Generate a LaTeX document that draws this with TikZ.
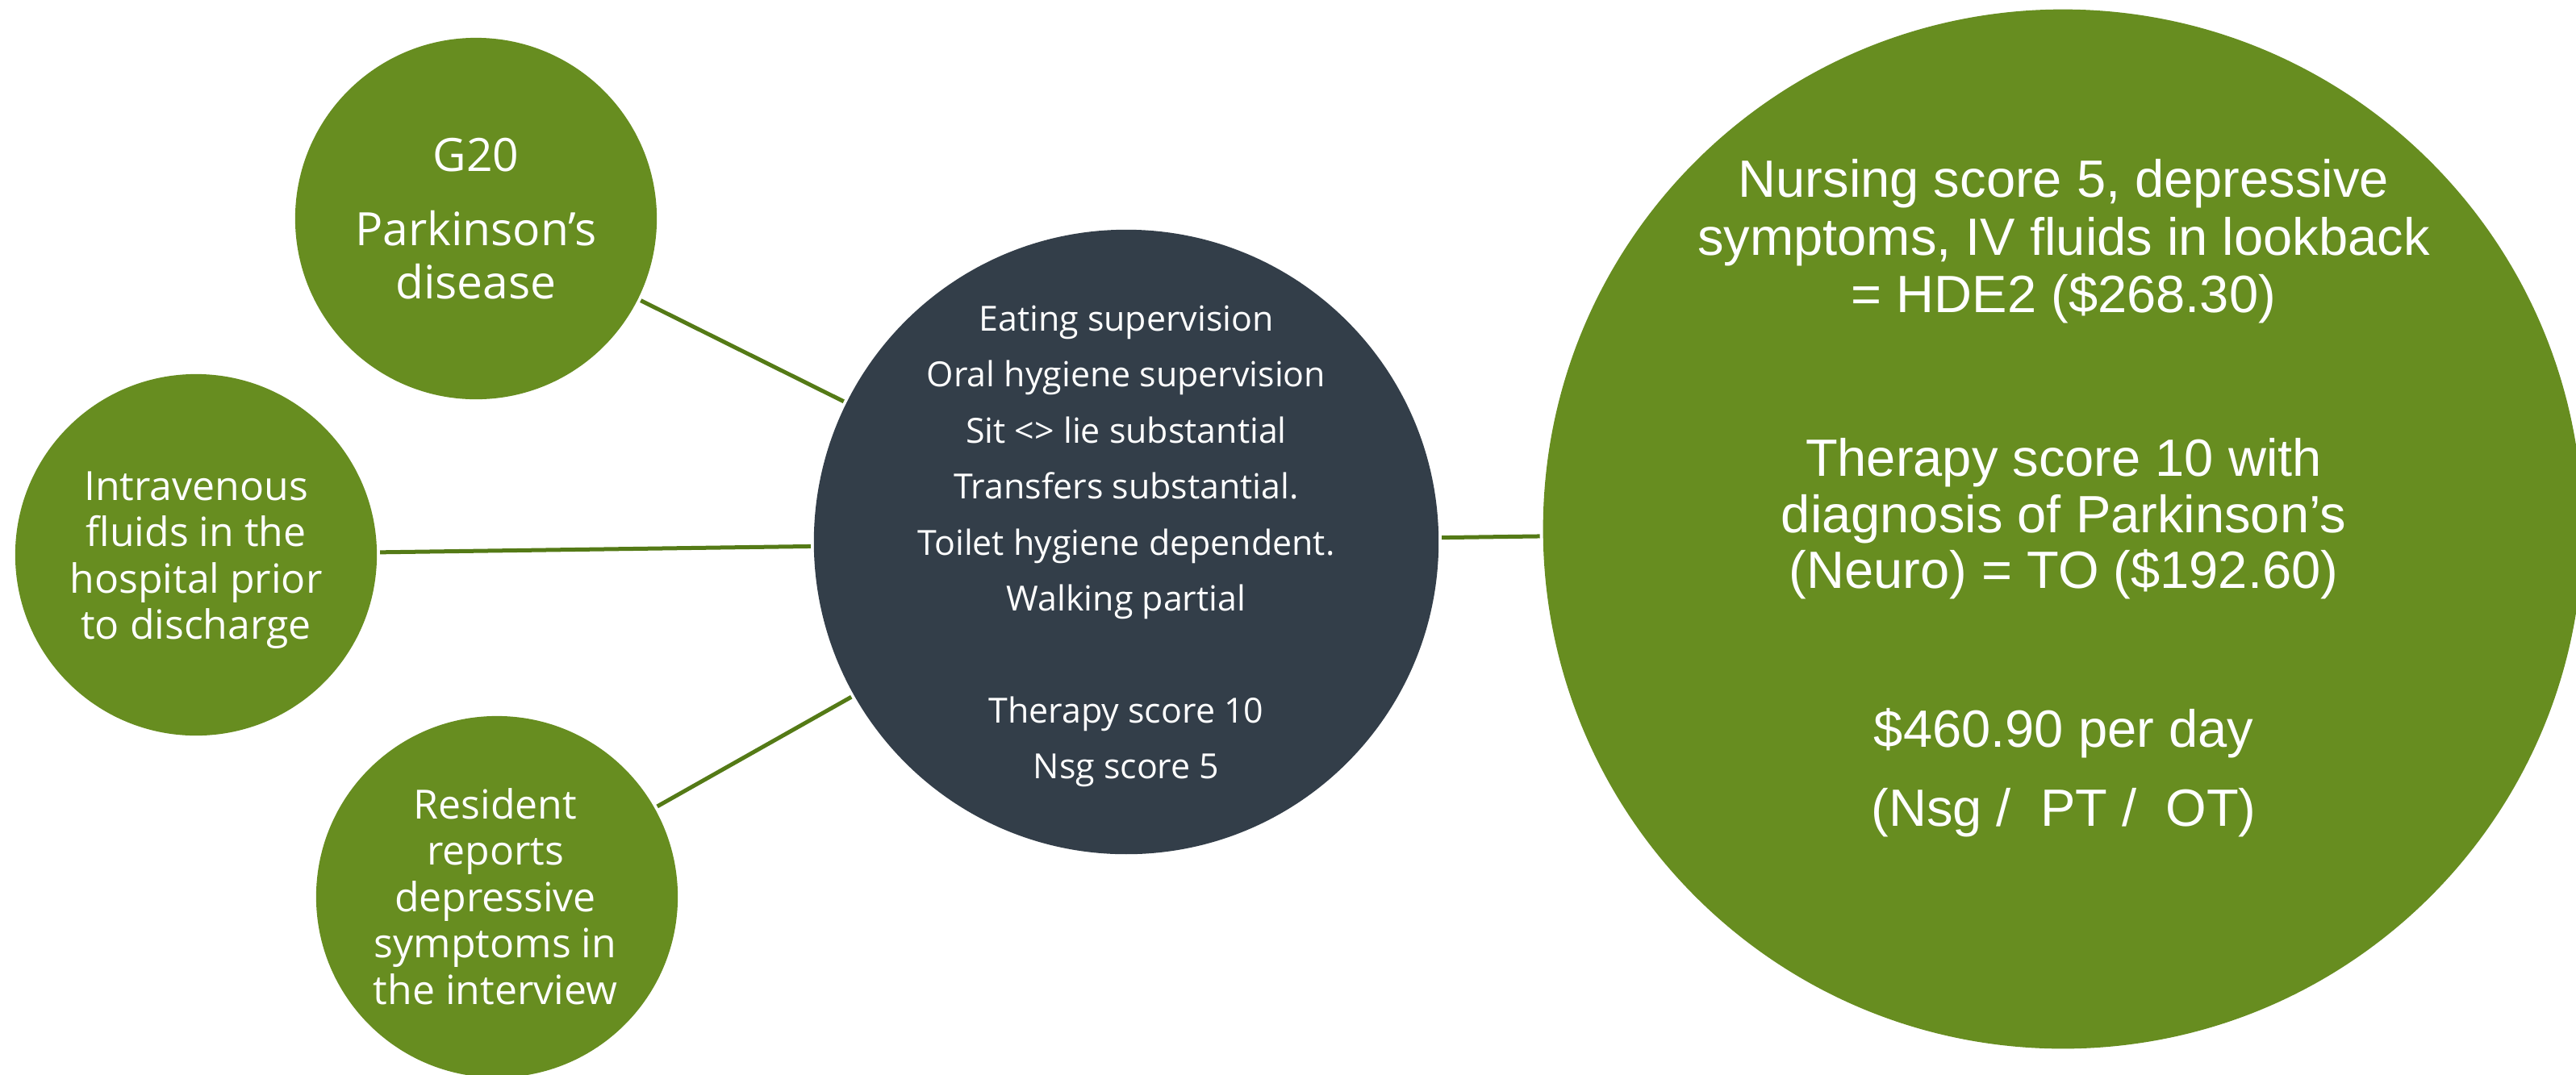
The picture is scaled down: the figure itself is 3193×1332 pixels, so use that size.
\documentclass[tikz,border=0pt]{standalone}
\usepackage{fontspec}
\setmainfont{Open Sans}
\newfontfamily\headfont{Liberation Sans}
\definecolor{leaf}{RGB}{103,141,32}
\definecolor{slate}{RGB}{51,62,73}
\definecolor{stem}{RGB}{84,122,22}
\newcommand\fsTitle{\fontsize{16.2pt}{18.8pt}\selectfont}
\newcommand\fsSide{\fontsize{14.2pt}{16.4pt}\selectfont}
\newcommand\fsCore{\fontsize{12.2pt}{19.6pt}\selectfont}
\newcommand\fsBig{\headfont\fontsize{18.5pt}{20.2pt}\selectfont}
\begin{document}
\begin{tikzpicture}[x=0.01cm,y=-0.01cm,
  bubble/.style={circle,fill=leaf,draw=none,inner sep=0pt,outer sep=0.04cm,minimum size=#1},
  hub/.style={circle,fill=slate,draw=none,inner sep=0pt,outer sep=0.04cm,minimum size=#1},
  link/.style={draw=stem,line width=0.05cm},
  txt/.style={text=white,anchor=base,inner sep=0pt}]
\useasboundingbox (0,0) rectangle (3193,1332);
\clip (0,0) rectangle (3193,1332);

% circles
\node[bubble=4.48cm] (g20) at (590,271) {};
\node[bubble=4.48cm] (iv) at (243,688) {};
\node[bubble=4.48cm] (dep) at (616,1112) {};
\node[hub=7.74cm] (core) at (1396,672) {};
\node[bubble=12.88cm] (pay) at (2557,656) {};

% connectors
\draw[link] (g20) -- (core);
\draw[link] (iv) -- (core);
\draw[link] (dep) -- (core);
\draw[link] (core) -- (pay);

% diagnosis
\node[txt,font=\fsTitle] (g20a) at (590,212) {G20};
\node[txt,font=\fsTitle] (g20b) at (590,304) {Parkinson’s};
\node[txt,font=\fsTitle] (g20c) at (590,370) {disease};

% IV fluids
\node[txt,font=\fsSide] (iva) at (243,620) {Intravenous};
\node[txt,font=\fsSide] (ivb) at (243,677) {fluids in the};
\node[txt,font=\fsSide] (ivc) at (243,735) {hospital prior};
\node[txt,font=\fsSide] (ivd) at (243,792) {to discharge};

% depressive symptoms
\node[txt,font=\fsSide] (depa) at (614,1015) {Resident};
\node[txt,font=\fsSide] (depb) at (614,1072) {reports};
\node[txt,font=\fsSide] (depc) at (614,1130) {depressive};
\node[txt,font=\fsSide] (depd) at (614,1187) {symptoms in};
\node[txt,font=\fsSide] (depe) at (614,1245) {the interview};

% functional scores
\node[txt,font=\fsCore] (cora) at (1396,410) {Eating supervision};
\node[txt,font=\fsCore] (corb) at (1396,479) {Oral hygiene supervision};
\node[txt,font=\fsCore] (corc) at (1396,549) {Sit <> lie substantial};
\node[txt,font=\fsCore] (cord) at (1396,618) {Transfers substantial.};
\node[txt,font=\fsCore] (corx) at (1396,688) {Toilet hygiene dependent.};
\node[txt,font=\fsCore] (corf) at (1396,757) {Walking partial};
\node[txt,font=\fsCore] (corg) at (1396,896) {Therapy score 10};
\node[txt,font=\fsCore] (corh) at (1396,965) {Nsg score 5};

% payment summary
\node[txt,font=\fsBig] (paya) at (2558,244) {Nursing score 5, depressive};
\node[txt,font=\fsBig] (payb) at (2558,316) {symptoms, IV fluids in lookback};
\node[txt,font=\fsBig] (payc) at (2558,387) {= HDE2 (\$268.30)};
\node[txt,font=\fsBig] (payd) at (2558,590) {Therapy score 10 with};
\node[txt,font=\fsBig] (paye) at (2558,660) {diagnosis of Parkinson’s};
\node[txt,font=\fsBig] (payf) at (2558,729) {(Neuro) = TO (\$192.60)};
\node[txt,font=\fsBig] (payg) at (2558,926) {\$460.90 per day};
\node[txt,font=\fsBig] (payh) at (2558,1024) {(Nsg /\ \ PT /\ \ OT)};
\end{tikzpicture}
\end{document}
